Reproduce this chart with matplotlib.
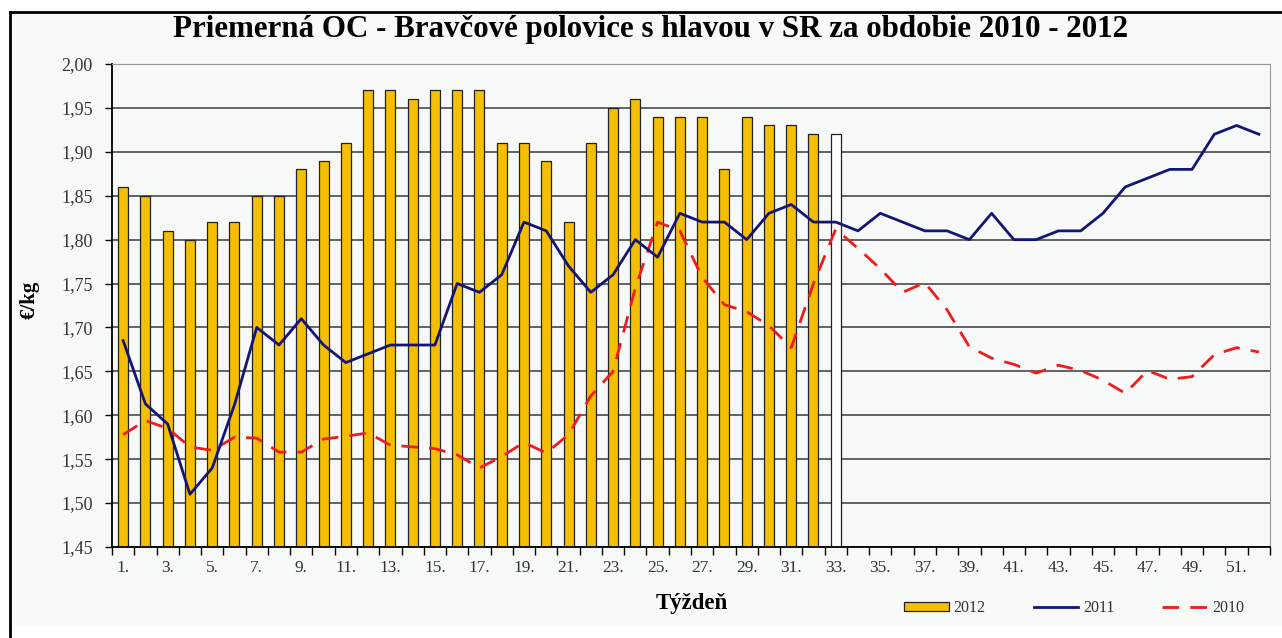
import matplotlib
matplotlib.use("Agg")
import matplotlib.pyplot as plt
import numpy as np
from matplotlib.patches import Rectangle, Patch
from matplotlib.lines import Line2D

# týždne 1..52
weeks = np.arange(1, 53)

# 2012 - stĺpce (týždeň 33 prázdny stĺpec)
price_2012 = [1.86, 1.85, 1.81, 1.80, 1.82, 1.82, 1.85, 1.85, 1.88, 1.89,
              1.91, 1.97, 1.97, 1.96, 1.97, 1.97, 1.97, 1.91, 1.91, 1.89,
              1.82, 1.91, 1.95, 1.96, 1.94, 1.94, 1.94, 1.88, 1.94, 1.93,
              1.93, 1.92]
price_2012_last = 1.92

price_2011 = [1.685, 1.613, 1.59, 1.51, 1.54, 1.612, 1.70, 1.68, 1.71, 1.68,
              1.66, 1.67, 1.68, 1.68, 1.68, 1.75, 1.74, 1.76, 1.82, 1.81,
              1.77, 1.74, 1.76, 1.80, 1.78, 1.83, 1.82, 1.82, 1.80, 1.83,
              1.84, 1.82, 1.82, 1.81, 1.83, 1.82, 1.81, 1.81, 1.80, 1.83,
              1.80, 1.80, 1.81, 1.81, 1.83, 1.86, 1.87, 1.88, 1.88, 1.92,
              1.93, 1.92]

price_2010 = [1.578, 1.594, 1.585, 1.564, 1.560, 1.575, 1.574, 1.558, 1.558, 1.573,
              1.576, 1.580, 1.566, 1.564, 1.562, 1.555, 1.540, 1.553, 1.569, 1.557,
              1.578, 1.622, 1.650, 1.745, 1.820, 1.810, 1.757, 1.726, 1.718, 1.702,
              1.677, 1.750, 1.812, 1.790, 1.767, 1.740, 1.751, 1.720, 1.678, 1.665,
              1.658, 1.648, 1.657, 1.651, 1.640, 1.625, 1.651, 1.641, 1.644, 1.669,
              1.677, 1.672]

yticks = np.arange(1.45, 2.001, 0.05)
xlabels = [f"{w}." for w in weeks[::2]]

bg = '#f7faf8'
serif = ['Liberation Serif', 'DejaVu Serif']
plt.rcParams['font.family'] = serif

fig = plt.figure(figsize=(12.82, 6.38), dpi=100)

# pozadie grafu s rámom
fig.patches.append(Rectangle((10 / 1282, (638 - 625) / 638), 1272 / 1282, (625 - 12) / 638,
                             transform=fig.transFigure, facecolor=bg, edgecolor='none', zorder=-5))
fig.add_artist(Line2D([10 / 1282, 10 / 1282], [0, 1 - 12 / 638], transform=fig.transFigure,
                      color='black', lw=2, zorder=-4))
fig.add_artist(Line2D([10 / 1282, 1], [1 - 12 / 638, 1 - 12 / 638], transform=fig.transFigure,
                      color='black', lw=2, zorder=-4))

ax = fig.add_axes([112 / 1282, (638 - 547) / 638, (1270 - 112) / 1282, (547 - 64) / 638])
ax.set_zorder(2)
ax.set_facecolor(bg)

w12 = np.arange(1, len(price_2012) + 1)
ax.bar(w12, np.array(price_2012) - 1.45, bottom=1.45, width=0.45,
       color='#f5bf00', edgecolor='#222222', linewidth=0.9, zorder=2)
ax.bar([len(price_2012) + 1], [price_2012_last - 1.45], bottom=1.45, width=0.45,
       color='white', edgecolor='#222222', linewidth=0.9, zorder=2)

ax.plot(weeks, price_2011, color='#141478', lw=2, zorder=4)
ax.plot(weeks, price_2010, color='#ee1c1c', lw=2, dashes=(6, 4), zorder=3)

ax.set_xlim(0.5, 52.5)
ax.set_ylim(1.45, 2.0)
ax.set_yticks(yticks)
ax.set_yticklabels([f"{v:.2f}".replace('.', ',') for v in yticks])
ax.yaxis.grid(True, color='#3a3a3a', lw=1.1, zorder=1)
ax.set_axisbelow(True)

ax.set_xticks(np.arange(0.5, 53, 1))
ax.set_xticklabels([])
ax.set_xticks(weeks[::2], minor=True)
ax.set_xticklabels(xlabels, minor=True)
ax.tick_params(axis='x', which='major', length=6, width=1, color='black', direction='out')
ax.tick_params(axis='x', which='minor', length=0, pad=9, labelsize=12.5, labelcolor='#333333')
ax.tick_params(axis='y', length=5, width=1, direction='out', pad=9,
               labelsize=13, labelcolor='#333333')

for s in ['top', 'right']:
    ax.spines[s].set_color('#999999')
for s in ['left', 'bottom']:
    ax.spines[s].set_color('black')
    ax.spines[s].set_linewidth(1.3)

fig.text(651 / 1282, 1 - 30 / 638, "Priemerná OC - Bravčové polovice s hlavou v SR za obdobie 2010 - 2012",
         ha='center', va='center', fontsize=22.3, fontweight='bold')
fig.text(30 / 1282, 1 - 300 / 638, "€/kg", rotation=90, ha='center', va='center',
         fontsize=15, fontweight='bold')
fig.text(692 / 1282, 1 - 603 / 638, "Týždeň", ha='center', va='center',
         fontsize=16.5, fontweight='bold')

handles = [Patch(facecolor='#f5bf00', edgecolor='#222222', linewidth=0.9),
           Line2D([], [], color='#141478', lw=2),
           Line2D([], [], color='#ee1c1c', lw=2, dashes=(6, 4))]
fig.legend(handles, ['2012', '2011', '2010'], loc='center', ncol=3,
           bbox_to_anchor=(1074 / 1282, 1 - 608 / 638), frameon=False,
           fontsize=11.5, handlelength=2.8, handleheight=0.5, handletextpad=0.3,
           columnspacing=3.0, labelcolor='#333333')

fig.savefig('out.png', dpi=100, facecolor='white')
